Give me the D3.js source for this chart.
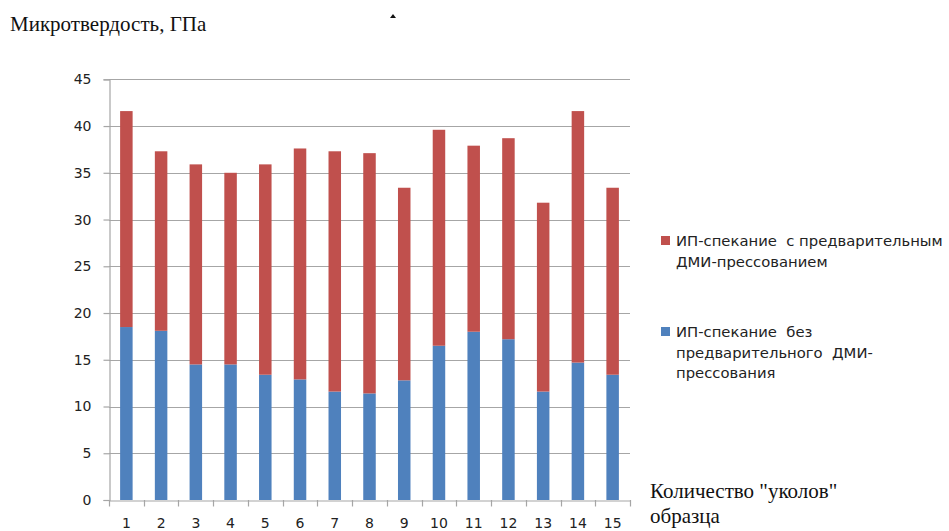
<!DOCTYPE html>
<html>
<head>
<meta charset="utf-8">
<script src="https://cdn.jsdelivr.net/npm/d3@7/dist/d3.min.js"></script>
<style>
  html, body { margin: 0; padding: 0; background: #ffffff; }
  svg { display: block; }
</style>
</head>
<body>
<svg id="chart" width="949" height="531"></svg>
<script>
// ---- data ----
const categories = ["1","2","3","4","5","6","7","8","9","10","11","12","13","14","15"];
const seriesNames = [
  "ИП-спекание без предварительного ДМИ-прессования",
  "ИП-спекание с предварительным ДМИ-прессованием"
];
const blueValues = [18.5, 18.1, 14.5, 14.5, 13.4, 12.9, 11.6, 11.4, 12.8, 16.5, 18.0, 17.2, 11.6, 14.7, 13.4];
const redValues  = [23.1, 19.2, 21.4, 20.5, 22.5, 24.7, 25.7, 25.7, 20.6, 23.1, 19.9, 21.5, 20.2, 26.9, 20.0];
const yTicks = [0, 5, 10, 15, 20, 25, 30, 35, 40, 45];
const yTitle = "Микротвердость, ГПа";
const xTitleLines = ["Количество \"уколов\"", "образца"];
const legendRedLines = ["ИП-спекание  с предварительным", "ДМИ-прессованием"];
const legendBlueLines = ["ИП-спекание  без", "предварительного  ДМИ-", "прессования"];

// ---- layout ----
const colors = { blue: "#4F81BD", red: "#C0504D" };
const plotL = 109, plotR = 630, plotT = 79.3, plotB = 500;
const svg = d3.select("#chart");

const x = d3.scaleBand().domain(categories).range([plotL, plotR]).paddingInner(0.64).paddingOuter(0.32);
const xb = d3.scaleBand().domain(categories).range([plotL, plotR]).padding(0);
const y = d3.scaleLinear().domain([0, 45]).range([plotB, plotT]);

const rows = categories.map((c, i) => ({ cat: c, blue: blueValues[i], red: redValues[i] }));
const stacked = d3.stack().keys(["blue", "red"])(rows);

// gridlines
svg.append("g").selectAll("line").data(yTicks.filter(t => t > 0)).join("line")
  .attr("x1", plotL).attr("x2", plotR)
  .attr("y1", d => Math.round(y(d)) + 0.5).attr("y2", d => Math.round(y(d)) + 0.5)
  .attr("stroke", "#a6a6a6").attr("stroke-width", 1.2);

// bars
svg.append("g").selectAll("g").data(stacked).join("g")
  .attr("fill", d => colors[d.key])
  .selectAll("rect").data(d => d).join("rect")
  .attr("x", d => x(d.data.cat))
  .attr("width", x.bandwidth())
  .attr("y", d => y(d[1]))
  .attr("height", d => y(d[0]) - y(d[1]));

// y axis
const yAxis = svg.append("g").attr("transform", `translate(${plotL + 0.5},0)`)
  .call(d3.axisLeft(y).tickValues(yTicks).tickSize(6).tickPadding(12));
yAxis.select(".domain").attr("stroke", "#a6a6a6").attr("stroke-width", 1.2);
yAxis.selectAll(".tick line").attr("stroke", "#a6a6a6").attr("stroke-width", 1.2);
yAxis.selectAll(".tick text").attr("font-family", "DejaVu Sans, Verdana, sans-serif")
  .attr("font-size", 14).attr("fill", "#222");

// x axis
const xAxis = svg.append("g").attr("transform", `translate(0,${plotB + 0.5})`)
  .call(d3.axisBottom(xb).tickSize(0).tickPadding(18));
xAxis.select(".domain").attr("stroke", "#a6a6a6").attr("stroke-width", 1.2);
xAxis.selectAll(".tick text").attr("font-family", "DejaVu Sans, Verdana, sans-serif")
  .attr("font-size", 14).attr("fill", "#222");
// category boundary ticks
svg.append("g").selectAll("line").data(categories.concat(["end"])).join("line")
  .attr("x1", (d, i) => Math.round(plotL + i * xb.step()) + 0.5)
  .attr("x2", (d, i) => Math.round(plotL + i * xb.step()) + 0.5)
  .attr("y1", plotB).attr("y2", plotB + 6.5)
  .attr("stroke", "#a6a6a6").attr("stroke-width", 1.2);

// titles
svg.append("text").attr("x", 10).attr("y", 31)
  .attr("font-family", "Liberation Serif, Times New Roman, serif").attr("font-size", 21)
  .attr("fill", "#111").text(yTitle);
svg.append("path").attr("d", "M390,18 L393,14 L396,18 Z").attr("fill", "#111");

svg.append("g").selectAll("text").data(xTitleLines).join("text")
  .attr("x", 650).attr("y", (d, i) => 498 + i * 25)
  .attr("font-family", "Liberation Serif, Times New Roman, serif").attr("font-size", 21)
  .attr("fill", "#111").text(d => d);

// legend
const legend = [
  { color: colors.red, lines: legendRedLines, y0: 246 },
  { color: colors.blue, lines: legendBlueLines, y0: 337 }
];
const lg = svg.append("g");
legend.forEach(item => {
  lg.append("rect").attr("x", 661).attr("y", item.y0 - 10).attr("width", 9).attr("height", 9)
    .attr("fill", item.color);
  lg.selectAll(null).data(item.lines).join("text")
    .attr("x", 676).attr("y", (d, i) => item.y0 + i * 20.5)
    .attr("font-family", "DejaVu Sans, Verdana, sans-serif").attr("font-size", 14.8)
    .attr("fill", "#222").style("white-space", "pre").text(d => d);
});
</script>
</body>
</html>
